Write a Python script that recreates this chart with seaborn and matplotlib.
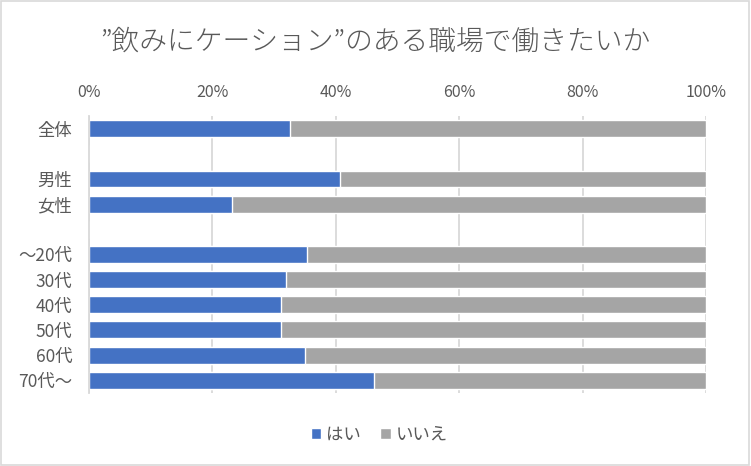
import matplotlib
matplotlib.use("Agg")
import matplotlib.pyplot as plt
import seaborn as sns
import pandas as pd
from matplotlib.patches import Rectangle

categories = ["全体", " ", "男性", "女性", "  ", "～20代", "30代", "40代", "50代", "60代", "70代～"]
yes_vals = [32.6, 0, 40.7, 23.2, 0, 35.3, 31.9, 31.1, 31.1, 35.0, 46.2]
no_vals = [67.4, 0, 59.3, 76.8, 0, 64.7, 68.1, 68.9, 68.9, 65.0, 53.8]
xticks = [0, 20, 40, 60, 80, 100]
series_names = ["はい", "いいえ"]
title = "”飲みにケーション”のある職場で働きたいか"

sns.set_theme(style="white")
plt.rcParams["font.family"] = ["Noto Sans CJK JP", "DejaVu Sans"]

BLUE = "#4472C4"
GRAY = "#A5A5A5"
TEXT = "#595959"
GRID = "#D9D9D9"

df = pd.DataFrame({"cat": categories, "yes": yes_vals, "no": no_vals})
df["total"] = df["yes"] + df["no"]

fig = plt.figure(figsize=(7.51, 4.66), dpi=100)
ax = fig.add_axes([0.1185, 0.157, 0.8215, 0.594])

sns.barplot(data=df, x="total", y="cat", order=categories, orient="h",
            color=GRAY, width=0.67, ax=ax, saturation=1, label=series_names[1], zorder=3)
sns.barplot(data=df, x="yes", y="cat", order=categories, orient="h",
            color=BLUE, width=0.67, ax=ax, saturation=1, label=series_names[0], zorder=3)

ax.set_xlim(0, 100)
ax.set_ylim(10.5, -0.5)
ax.set_xticks(xticks)
ax.set_xticklabels([f"{v}%" for v in xticks])
ax.xaxis.tick_top()
ax.tick_params(axis="x", length=0, pad=11, labelsize=11.5, labelcolor=TEXT)
ax.tick_params(axis="y", length=0, pad=12, labelsize=12.5, labelcolor=TEXT)
ax.set_xlabel("")
ax.set_ylabel("")
ax.grid(axis="x", color=GRID, linewidth=1.3, zorder=0)
for s in ["top", "right", "bottom"]:
    ax.spines[s].set_visible(False)
ax.spines["left"].set_color(GRID)
ax.spines["left"].set_linewidth(1.3)
ax.spines["left"].set_zorder(4)

handles, labels = ax.get_legend_handles_labels()
order = [labels.index(series_names[0]), labels.index(series_names[1])]
leg = fig.legend([handles[i] for i in order], [labels[i] for i in order],
                 loc="center", bbox_to_anchor=(0.505, 0.068), ncol=2, frameon=False,
                 fontsize=12.5, handlelength=0.6, handleheight=0.6,
                 handletextpad=0.3, columnspacing=1.1)
for t in leg.get_texts():
    t.set_color(TEXT)
if ax.get_legend() is not None:
    ax.get_legend().remove()

fig.text(0.5, 0.91, title, ha="center", va="center", fontsize=20, color=TEXT,
         fontweight="light")

fig.patches.append(Rectangle((0.001, 0.002), 0.997, 0.995, transform=fig.transFigure,
                             fill=False, edgecolor=GRID, linewidth=1.2))

fig.savefig("out.png", dpi=100)
